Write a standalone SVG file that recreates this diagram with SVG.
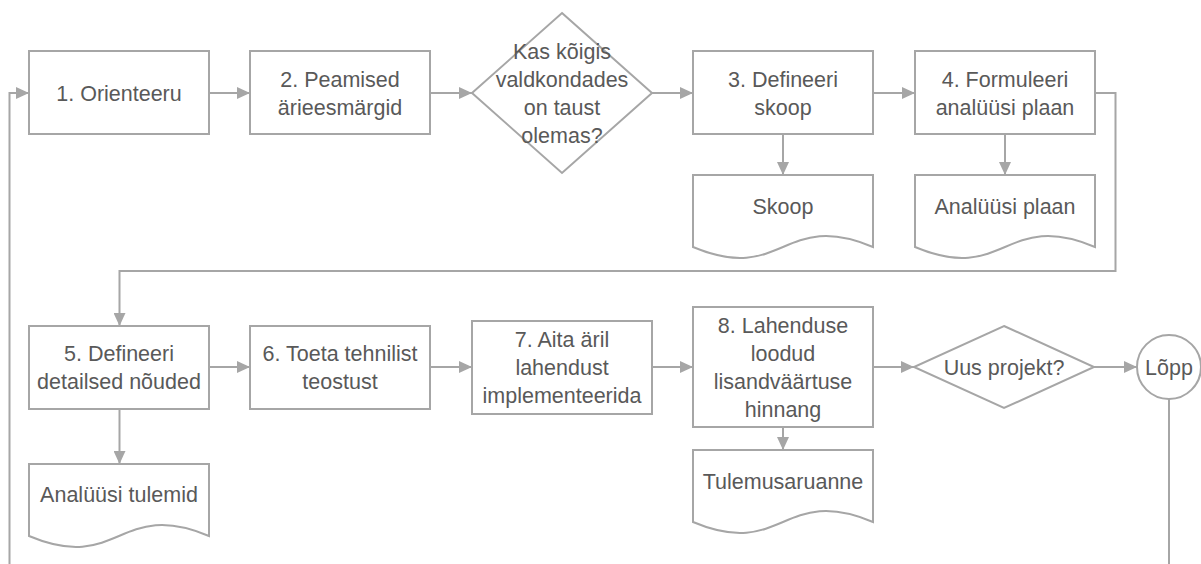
<svg xmlns="http://www.w3.org/2000/svg" width="1201" height="564" viewBox="0 0 1201 564">
<style>
.s{fill:#fff;stroke:#a6a6a6;stroke-width:2}
.c{fill:none;stroke:#a6a6a6;stroke-width:2}
.a{marker-end:url(#ah)}
text{font-family:"Liberation Sans",Arial,sans-serif;font-size:21.5px;fill:#595959;text-anchor:middle}
</style>
<defs>
<marker id="ah" markerUnits="userSpaceOnUse" markerWidth="13" markerHeight="12" refX="13" refY="6" orient="auto">
<path d="M0,0 L13,6 L0,12 z" fill="#a6a6a6"/>
</marker>
</defs>
<g id="connectors">
<path class="c a" d="M9.5,564 V93 H29"/>
<path class="c a" d="M209,93 H250"/>
<path class="c a" d="M430,93 H472"/>
<path class="c a" d="M652,93 H693"/>
<path class="c a" d="M873,93 H915"/>
<path class="c a" d="M783,134 V175"/>
<path class="c a" d="M1005,134 V175"/>
<path class="c a" d="M1095,93 H1115.5 V271 H119.5 V326"/>
<path class="c a" d="M209,367 H250"/>
<path class="c a" d="M430,367 H472"/>
<path class="c a" d="M652,367 H693"/>
<path class="c a" d="M873,367 H914"/>
<path class="c a" d="M1094,367 H1137"/>
<path class="c a" d="M783,427 V450"/>
<path class="c a" d="M119.5,409 V464"/>
<path class="c" d="M1169,399 V564"/>
</g>
<g id="n1"><rect class="s" x="29" y="51" width="180" height="83"/><text x="119" y="100.5">1. Orienteeru</text></g>
<g id="n2"><rect class="s" x="250" y="51" width="180" height="83"/><text x="340" y="86.5">2. Peamised</text><text x="340" y="114.5">ärieesmärgid</text></g>
<g id="d1"><polygon class="s" points="562,13 652,93 562,173 472,93"/><text x="562" y="58.5">Kas kõigis</text><text x="562" y="86.5">valdkondades</text><text x="562" y="114.5">on taust</text><text x="562" y="142.5">olemas?</text></g>
<g id="n3"><rect class="s" x="693" y="51" width="180" height="83"/><text x="783" y="86.5">3. Defineeri</text><text x="783" y="114.5">skoop</text></g>
<g id="n4"><rect class="s" x="915" y="51" width="180" height="83"/><text x="1005" y="86.5">4. Formuleeri</text><text x="1005" y="114.5">analüüsi plaan</text></g>
<g id="doc1"><path class="s" d="M693,175 H873 V247 C783,209 783,285 693,247 Z" transform=""/><text x="783" y="214">Skoop</text></g>
<g id="doc2"><path class="s" d="M915,175 H1095 V247 C1005,209 1005,285 915,247 Z"/><text x="1005" y="214">Analüüsi plaan</text></g>
<g id="n5"><rect class="s" x="29" y="326" width="180" height="83"/><text x="119" y="360.5">5. Defineeri</text><text x="119" y="388.5">detailsed nõuded</text></g>
<g id="n6"><rect class="s" x="250" y="326" width="180" height="83"/><text x="340" y="360.5">6. Toeta tehnilist</text><text x="340" y="388.5">teostust</text></g>
<g id="n7"><rect class="s" x="472" y="321" width="180" height="93"/><text x="562" y="347">7. Aita äril</text><text x="562" y="375">lahendust</text><text x="562" y="403">implementeerida</text></g>
<g id="n8"><rect class="s" x="693" y="307" width="180" height="120"/><text x="783" y="333">8. Lahenduse</text><text x="783" y="361">loodud</text><text x="783" y="389">lisandväärtuse</text><text x="783" y="417">hinnang</text></g>
<g id="doc3"><path class="s" d="M29,464 H209 V536 C119,498 119,574 29,536 Z"/><text x="119" y="502">Analüüsi tulemid</text></g>
<g id="doc4"><path class="s" d="M693,450 H873 V522 C783,484 783,560 693,522 Z"/><text x="783" y="489">Tulemusaruanne</text></g>
<g id="d2"><polygon class="s" points="1004,326 1094,367 1004,408 914,367"/><text x="1004" y="375">Uus projekt?</text></g>
<g id="end"><circle class="s" cx="1169" cy="367" r="32"/><text x="1169" y="375">Lõpp</text></g>
</svg>
